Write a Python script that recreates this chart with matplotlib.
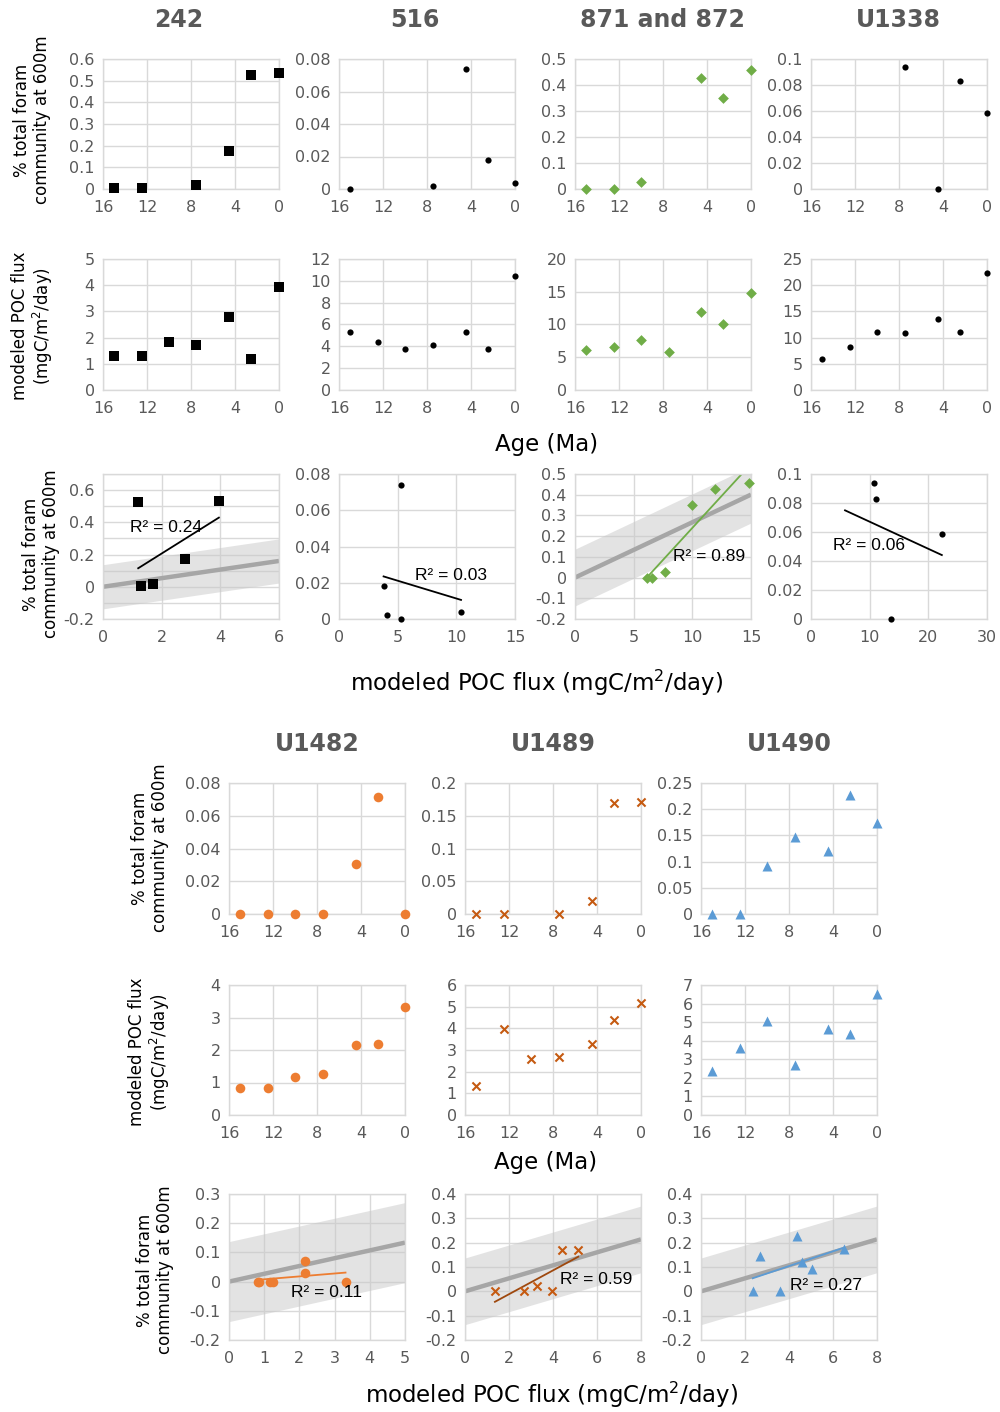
import matplotlib.pyplot as plt
import numpy as np
from matplotlib.ticker import MultipleLocator, FuncFormatter

nan = np.nan

# sample ages (Ma) shared by every site
ages = [15, 12.5, 10, 7.5, 4.5, 2.5, 0]

# % of total foram community at 600 m
foram_242 = [0.005, 0.005, nan, 0.02, 0.175, 0.525, 0.535]
foram_516 = [0.0, nan, nan, 0.002, 0.074, 0.018, 0.004]
foram_871 = [0.0, 0.0, 0.028, nan, 0.426, 0.349, 0.456]
foram_U1338 = [nan, nan, nan, 0.0938, 0.0, 0.083, 0.0585]
foram_U1482 = [0.0, 0.0, 0.0, 0.0, 0.0306, 0.0712, 0.0]
foram_U1489 = [0.0, 0.0, nan, 0.0, 0.0204, 0.169, 0.1714]
foram_U1490 = [0.0, 0.0, 0.0925, 0.1467, 0.121, 0.2277, 0.174]

# modeled POC flux (mgC/m2/day)
poc_242 = [1.3, 1.3, 1.82, 1.7, 2.78, 1.2, 3.95]
poc_516 = [5.3, 4.4, 3.8, 4.1, 5.3, 3.8, 10.4]
poc_871 = [6.1, 6.6, 7.7, 5.8, 11.9, 10.0, 14.8]
poc_U1338 = [6.0, 8.3, 11.1, 10.8, 13.6, 11.0, 22.3]
poc_U1482 = [0.84, 0.82, 1.17, 1.26, 2.15, 2.17, 3.31]
poc_U1489 = [1.36, 3.95, 2.6, 2.7, 3.27, 4.39, 5.15]
poc_U1490 = [2.35, 3.59, 5.05, 2.69, 4.61, 4.38, 6.5]

sites = ['242', '516', '871 and 872', 'U1338', 'U1482', 'U1489', 'U1490']
r2_text = ['0.24', '0.03', '0.89', '0.06', '0.11', '0.59', '0.27']
# trendline drawn back past the lowest flux value (forecast)
trend_back = [0, 0, 0, 5, 0, 0, 0]

# reference relation (all sites) and its envelope
ref_slope = 0.0267
ref_halfwidth = 0.137

forams = [foram_242, foram_516, foram_871, foram_U1338, foram_U1482, foram_U1489, foram_U1490]
pocs = [poc_242, poc_516, poc_871, poc_U1338, poc_U1482, poc_U1489, poc_U1490]

# axis settings: (ymax, ystep) for foram row, POC row; regression (xmax, xstep, ymin, ymax, ystep)
foram_ax = [(0.6, 0.1), (0.08, 0.02), (0.5, 0.1), (0.1, 0.02), (0.08, 0.02), (0.2, 0.05), (0.25, 0.05)]
poc_ax = [(5, 1), (12, 2), (20, 5), (25, 5), (4, 1), (6, 1), (7, 1)]
reg_ax = [(6, 2, -0.2, 0.7, 0.2), (15, 5, 0, 0.08, 0.02), (15, 5, -0.2, 0.5, 0.1),
          (30, 10, 0, 0.1, 0.02), (5, 1, -0.2, 0.3, 0.1), (8, 2, -0.2, 0.4, 0.1),
          (8, 2, -0.2, 0.4, 0.1)]
show_ref = [True, False, True, False, True, True, True]
r2_pos = [(0.92, 0.37), (6.5, 0.024), (8.35, 0.10), (3.75, 0.051),
          (1.76, -0.036), (4.32, 0.047), (4.05, 0.022)]

styles = [
    dict(marker='s', s=46, color='black', line='black'),
    dict(marker='o', s=20, color='black', line='black'),
    dict(marker='D', s=30, color='#70ad47', line='#70ad47'),
    dict(marker='o', s=20, color='black', line='black'),
    dict(marker='o', s=48, color='#ed7d31', line='#ed7d31'),
    dict(marker='x', s=34, color='#c55a11', line='#9e480e'),
    dict(marker='^', s=52, color='#5b9bd5', line='#5b9bd5'),
]

GRID = '#d9d9d9'
TICK = '#595959'
W, H = 1000, 1412

fig = plt.figure(figsize=(W / 100, H / 100), dpi=100)


def box(left, top, w, h):
    return fig.add_axes([left / W, 1 - (top + h) / H, w / W, h / H])


def fmt(v, _):
    if abs(v) < 1e-9:
        return '0'
    return f'{round(v, 4):g}'


def style_axes(ax):
    for sp in ax.spines.values():
        sp.set_color(GRID)
        sp.set_linewidth(1)
    ax.grid(True, which='major', color=GRID, lw=1)
    ax.set_axisbelow(True)
    ax.tick_params(which='both', length=0, labelsize=11.5, labelcolor=TICK)
    ax.tick_params(axis='x', pad=8)
    ax.tick_params(axis='y', pad=6)
    ax.xaxis.set_major_formatter(FuncFormatter(fmt))
    ax.yaxis.set_major_formatter(FuncFormatter(fmt))


def age_panel(ax, i, values, lims):
    ymax, ystep = lims
    st = styles[i]
    ax.scatter(ages, values, marker=st['marker'], s=st['s'], color=st['color'],
               linewidths=1.5 if st['marker'] == 'x' else 0, clip_on=False, zorder=3)
    ax.set_xlim(16, 0)
    ax.set_ylim(0, ymax)
    ax.xaxis.set_major_locator(MultipleLocator(4))
    ax.yaxis.set_major_locator(MultipleLocator(ystep))
    style_axes(ax)


def reg_panel(ax, i):
    xmax, xstep, ymin, ymax, ystep = reg_ax[i]
    st = styles[i]
    x = np.array(pocs[i])
    y = np.array(forams[i])
    ok = ~np.isnan(x) & ~np.isnan(y)
    x, y = x[ok], y[ok]
    if show_ref[i]:
        xr = np.array([0, xmax])
        ax.fill_between(xr, ref_slope * xr - ref_halfwidth, ref_slope * xr + ref_halfwidth,
                        color='#c8c8c8', alpha=0.5, lw=0, zorder=1)
        ax.plot(xr, ref_slope * xr, color='#a6a6a6', lw=3.2, zorder=2, solid_capstyle='butt')
    slope, icpt = np.polyfit(x, y, 1)
    xt = np.array([x.min() - trend_back[i], x.max()])
    ax.plot(xt, slope * xt + icpt, color=st['line'], lw=1.3, zorder=2)
    ax.scatter(x, y, marker=st['marker'], s=st['s'], color=st['color'],
               linewidths=1.5 if st['marker'] == 'x' else 0, clip_on=False, zorder=3)
    ax.text(r2_pos[i][0], r2_pos[i][1], 'R² = ' + r2_text[i], fontsize=12.5,
            family=['Liberation Sans', 'DejaVu Sans'], ha='left', va='center', zorder=4)
    ax.set_xlim(0, xmax)
    ax.set_ylim(ymin, ymax)
    ax.xaxis.set_major_locator(MultipleLocator(xstep))
    ax.yaxis.set_major_locator(MultipleLocator(ystep))
    if i == 0:
        ax.yaxis.set_minor_locator(MultipleLocator(0.1))
        ax.grid(True, which='minor', axis='y', color=GRID, lw=1)
    style_axes(ax)


# upper block: four sites
top_left = [103, 339, 575, 811]
title_x = [179, 415, 662, 898]
for k in range(4):
    age_panel(box(top_left[k], 59, 176, 130), k, forams[k], foram_ax[k])
    age_panel(box(top_left[k], 259, 176, 131), k, pocs[k], poc_ax[k])
    reg_panel(box(top_left[k], 474, 176, 145), k)
    fig.text(title_x[k] / W, 1 - 20 / H, sites[k], fontsize=17, fontweight='bold',
             color=TICK, ha='center', va='center')

# lower block: three sites
bot_left = [229, 465, 701]
for k in range(3):
    i = k + 4
    age_panel(box(bot_left[k], 783, 176, 131), i, forams[i], foram_ax[i])
    age_panel(box(bot_left[k], 985, 176, 130), i, pocs[i], poc_ax[i])
    reg_panel(box(bot_left[k], 1194, 176, 146), i)
    fig.text((bot_left[k] + 88) / W, 1 - 744 / H, sites[i], fontsize=17, fontweight='bold',
             color=TICK, ha='center', va='center')

foram_lbl = '% total foram\ncommunity at 600m'
poc_lbl = 'modeled POC flux\n(mgC/m$^2$/day)'
flux_lbl = 'modeled POC flux (mgC/m$^2$/day)'

ylabels = [(32, 120, foram_lbl), (33, 326, poc_lbl), (41, 554, foram_lbl),
           (150, 848, foram_lbl), (150, 1052, poc_lbl), (155, 1270, foram_lbl)]
for xp, yp, t in ylabels:
    fig.text(xp / W, 1 - yp / H, t, rotation=90, fontsize=12, ha='center', va='center',
             multialignment='center', linespacing=1.15)

xlabels = [(547, 444, 'Age (Ma)'), (537, 683, flux_lbl),
           (546, 1163, 'Age (Ma)'), (552, 1395, flux_lbl)]
for xp, yp, t in xlabels:
    fig.text(xp / W, 1 - yp / H, t, fontsize=16.5, ha='center', va='center')

fig.savefig('out.png', dpi=100, facecolor='white')
